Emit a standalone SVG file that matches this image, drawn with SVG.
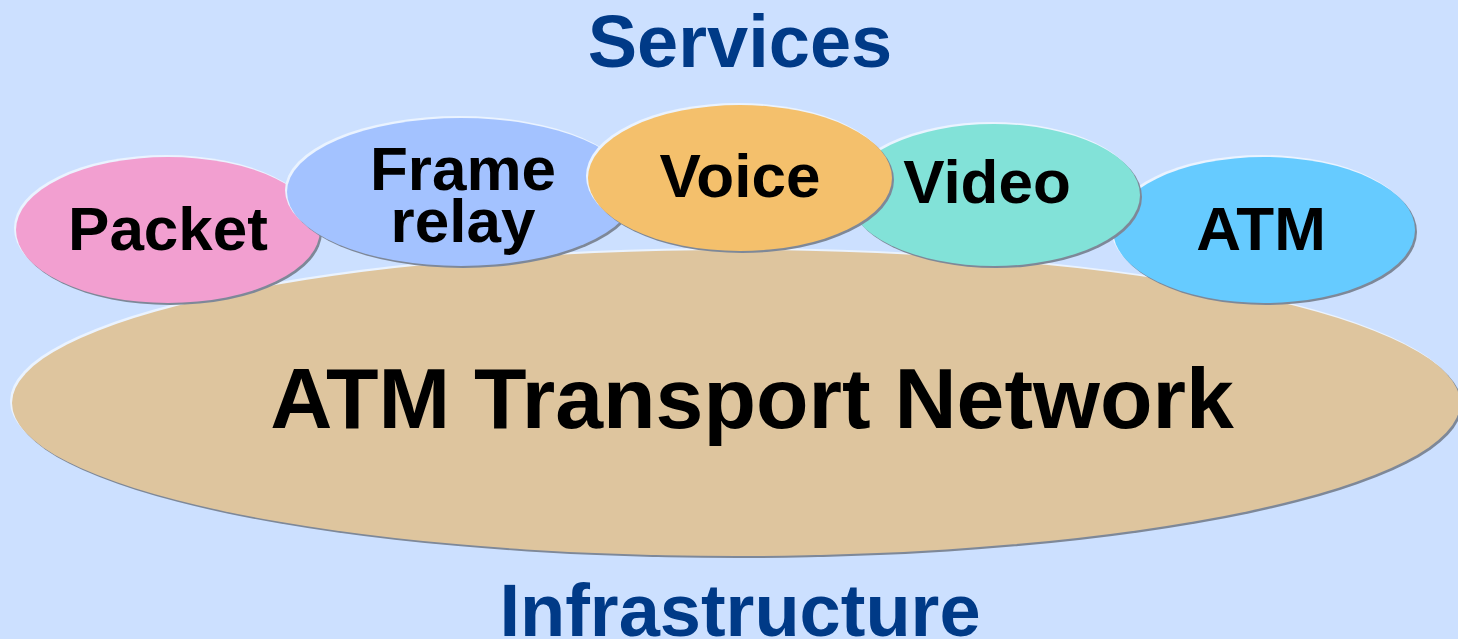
<svg xmlns="http://www.w3.org/2000/svg" width="1458" height="639" viewBox="0 0 1458 639">
<style>
.hl{fill:#EAF3FF}
.sh{fill:#7E8898}
.lbl{font-family:"Liberation Sans",Arial,sans-serif;font-weight:bold;fill:#000;text-anchor:middle}
.ttl{font-family:"Liberation Sans",Arial,sans-serif;font-weight:bold;fill:#003A87;text-anchor:middle;font-size:74px}
</style>
<rect width="1458" height="639" fill="#CCE0FF"/>
<text class="ttl" x="740" y="67">Services</text>
<text class="ttl" x="740" y="636">Infrastructure</text>
<g id="network">
<ellipse class="hl" cx="734" cy="401" rx="724" ry="153"/>
<ellipse class="sh" cx="738" cy="405" rx="724" ry="153"/>
<ellipse cx="736" cy="403" rx="724" ry="153" fill="#DEC59E"/>
<text class="lbl" x="752" y="428" font-size="86">ATM Transport Network</text>
</g>
<g id="packet">
<ellipse class="hl" cx="166" cy="228" rx="152" ry="73"/>
<ellipse class="sh" cx="170" cy="232" rx="152" ry="73"/>
<ellipse cx="168" cy="230" rx="152" ry="73" fill="#F29FD0"/>
<text class="lbl" x="168" y="250" font-size="62">Packet</text>
</g>
<g id="frame-relay">
<ellipse class="hl" cx="459" cy="190" rx="174" ry="74"/>
<ellipse class="sh" cx="463" cy="194" rx="174" ry="74"/>
<ellipse cx="461" cy="192" rx="174" ry="74" fill="#A3C2FF"/>
<text class="lbl" x="463" y="190" font-size="62">Frame</text>
<text class="lbl" x="463" y="242" font-size="62">relay</text>
</g>
<g id="atm">
<ellipse class="hl" cx="1262" cy="228" rx="151" ry="73"/>
<ellipse class="sh" cx="1266" cy="232" rx="151" ry="73"/>
<ellipse cx="1264" cy="230" rx="151" ry="73" fill="#66CBFF"/>
<text class="lbl" x="1261" y="250" font-size="62">ATM</text>
</g>
<g id="video">
<ellipse class="hl" cx="992" cy="193" rx="146" ry="71"/>
<ellipse class="sh" cx="996" cy="197" rx="146" ry="71"/>
<ellipse cx="994" cy="195" rx="146" ry="71" fill="#82E2D8"/>
<text class="lbl" x="987" y="203" font-size="62">Video</text>
</g>
<g id="voice">
<ellipse class="hl" cx="738" cy="176" rx="152" ry="73"/>
<ellipse class="sh" cx="742" cy="180" rx="152" ry="73"/>
<ellipse cx="740" cy="178" rx="152" ry="73" fill="#F4C06C"/>
<text class="lbl" x="740" y="197" font-size="62">Voice</text>
</g>
<g id="connectors"/>
</svg>
